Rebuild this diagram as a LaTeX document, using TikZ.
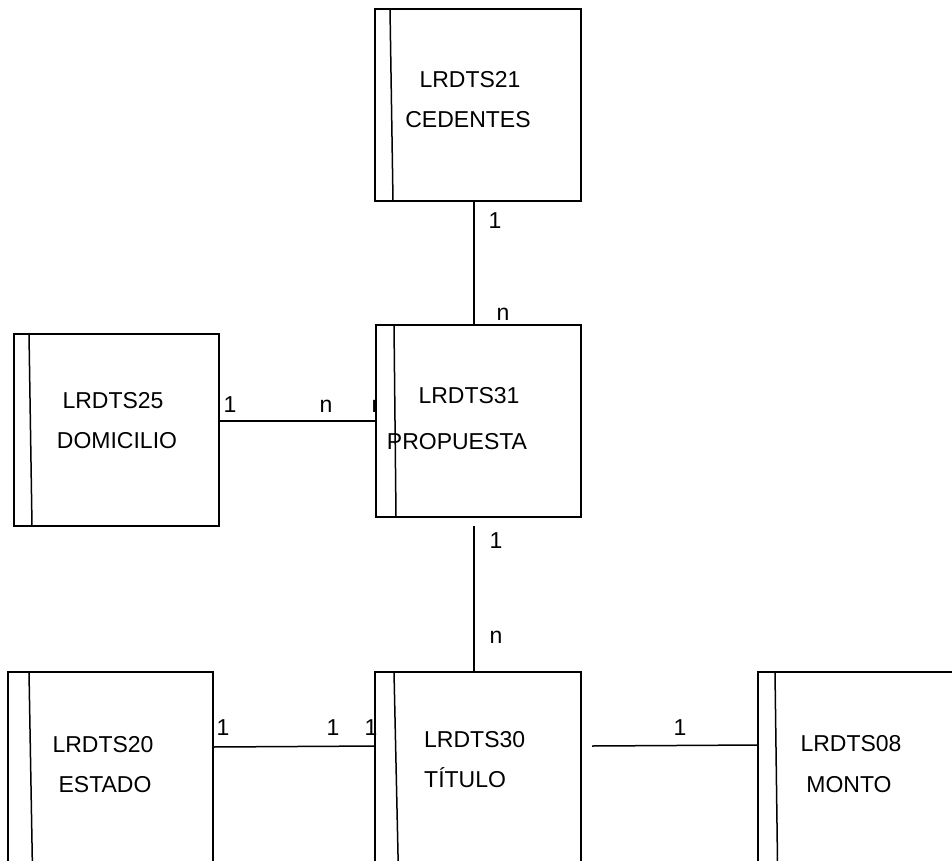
\documentclass[tikz,border=0pt]{standalone}
\usepackage{fontspec}
\setmainfont{Liberation Sans}
\pgfdeclarelayer{bg}
\pgfsetlayers{bg,main}
\begin{document}
\begin{tikzpicture}[x=1pt,y=-1pt,
  entity/.style={draw,fill=white,line width=1.5pt,rectangle,inner sep=0pt,outer sep=0pt},
  txt/.style={anchor=base,inner sep=0pt,font=\fontsize{23}{27}\selectfont},
  lbl/.style={anchor=base,inner sep=0pt,font=\fontsize{23}{27}\selectfont},
  conn/.style={line width=1.5pt}]
\useasboundingbox (0,0) rectangle (952,861);
\clip (0,0) rectangle (952,861);
% boxes
\node[entity,minimum width=206pt,minimum height=192pt] (ced) at (478,105) {};
\node[entity,minimum width=205pt,minimum height=192pt] (prop) at (478.5,421) {};
\node[entity,minimum width=205pt,minimum height=192pt] (dom) at (116.5,430) {};
\node[entity,minimum width=205pt,minimum height=228pt] (est) at (110.5,786) {};
\node[entity,minimum width=206pt,minimum height=228pt] (tit) at (478,786) {};
\node[entity,minimum width=242pt,minimum height=228pt] (mon) at (879,786) {};
% inner lines
\draw[conn] ([xshift=15pt]ced.north west) -- ([xshift=18pt]ced.south west);
\draw[conn] ([xshift=18pt]prop.north west) -- ([xshift=20pt]prop.south west);
\draw[conn] ([xshift=15pt]dom.north west) -- ([xshift=18pt]dom.south west);
\draw[conn] ([xshift=21pt]est.north west) -- ([xshift=25pt]est.south west);
\draw[conn] ([xshift=19pt]tit.north west) -- ([xshift=24pt]tit.south west);
\draw[conn] ([xshift=17pt]mon.north west) -- ([xshift=20pt]mon.south west);
% texts
\node[txt] (t1a) at (470,88) {LRDTS21};
\node[txt] (t1b) at (468,128) {CEDENTES};
\node[txt] (t2a) at (113,408) {LRDTS25};
\node[txt] (t2b) at (117,448) {DOMICILIO};
\node[txt] (t3a) at (469,403) {LRDTS31};
\node[txt] (t3b) at (457,449) {PROPUESTA};
\node[txt] (t4a) at (103,752) {LRDTS20};
\node[txt] (t4b) at (105,792) {ESTADO};
\node[txt,anchor=base west] (t5a) at (424,747) {LRDTS30};
\node[txt,anchor=base west] (t5b) at (424,787) {TÍTULO};
\node[txt] (t6a) at (851,751) {LRDTS08};
\node[txt] (t6b) at (849,792) {MONTO};
% connectors (behind boxes)
\begin{pgfonlayer}{bg}
\fill[white] (0,0) rectangle (952,861);
\draw[conn] ([xshift=-4pt]ced.south) -- ([xshift=-4.5pt]prop.north);
\draw[conn] ([yshift=9pt]dom.east) -- (prop.west);
\draw[conn] ([xshift=-4.5pt,yshift=-9pt]prop.south) -- ([xshift=-4pt]tit.north);
\draw[conn] ([yshift=39pt]est.east) -- ([xshift=4pt,yshift=40pt]tit.west);
\draw[conn] ([xshift=11pt,yshift=40pt]tit.east) -- ([yshift=41pt]mon.west);
\node[lbl] (l4) at (378,412) {n};
\end{pgfonlayer}
% cardinality labels
\node[lbl] (l1) at (495,228) {1};
\node[lbl] (l2) at (503,320) {n};
\node[lbl] (l3) at (230,412) {1};
\node[lbl] (l5) at (326,412) {n};
\node[lbl] (l6) at (496,548) {1};
\node[lbl] (l7) at (496,643) {n};
\node[lbl] (l8) at (223,735) {1};
\node[lbl] (l9) at (333,735) {1};
\node[lbl] (l10) at (371,735) {1};
\node[lbl] (l11) at (680,735) {1};
\end{tikzpicture}
\end{document}
